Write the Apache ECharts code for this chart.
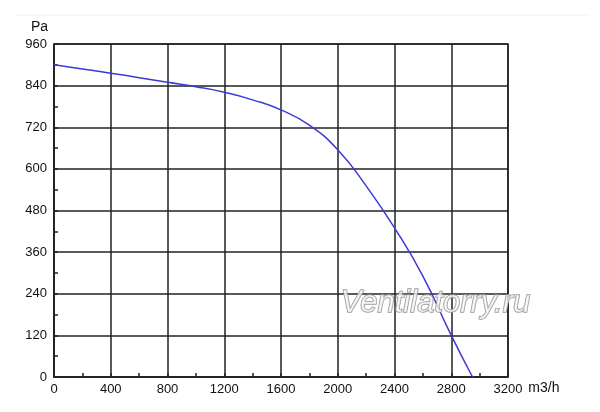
<!DOCTYPE html>
<html lang="en">
<head>
    <meta charset="UTF-8">
    <title>Fan curve</title>
    <script type="text/javascript" src="https://cdn.jsdelivr.net/npm/echarts@6/dist/echarts.min.js"></script>
    <style>
        html, body { margin: 0; padding: 0; background: #fff; }
        #main { width: 600px; height: 412px; }
    </style>
</head>
<body>
<div id="main"></div>
<script>
    // airflow, m3/h
    const flow = [0, 200, 400, 600, 800, 1000, 1200, 1400, 1600, 1800, 2000, 2200, 2400, 2600, 2800, 2950];
    // static pressure, Pa
    const pressure = [900, 888, 876, 863, 850, 837, 821, 799, 770, 726, 655, 551, 430, 291, 120, 0];
    const xTicks = [0, 400, 800, 1200, 1600, 2000, 2400, 2800, 3200];
    const yTicks = [0, 120, 240, 360, 480, 600, 720, 840, 960];

    const chart = echarts.init(document.getElementById('main'));
    const font = 'Liberation Sans, Arial, sans-serif';
    const lineStyle = { color: '#222', width: 1.5 };

    chart.setOption({
        animation: false,
        grid: { left: 54, right: 92, top: 44, bottom: 35, show: true, borderColor: '#222', borderWidth: 1.5 },
        graphic: [
            {   // faint line at the top of the picture
                type: 'line', shape: { x1: 15, y1: 15, x2: 590, y2: 15 },
                style: { stroke: '#f0f0f0', lineWidth: 1 }
            },
            {   // watermark
                type: 'text', left: 340, top: 287, z: 100,
                style: {
                    text: 'Ventilatorry.ru', font: 'italic 31px "Liberation Sans", Arial',
                    fill: 'rgba(255,255,255,0.7)', stroke: '#9a9a9a', lineWidth: 1.5
                }
            }
        ],
        xAxis: {
            type: 'value', min: xTicks[0], max: xTicks[xTicks.length - 1], interval: 400,
            name: 'm3/h', nameLocation: 'end', nameGap: 10,
            nameTextStyle: { fontFamily: font, fontSize: 14, color: '#111', verticalAlign: 'top', padding: [4, 0, 0, 0] },
            axisLine: { lineStyle: lineStyle },
            axisTick: { show: true, inside: true, length: 4, lineStyle: lineStyle },
            minorTick: { show: true, splitNumber: 2, length: 4, lineStyle: lineStyle },
            splitLine: { show: true, lineStyle: lineStyle },
            axisLabel: { fontFamily: font, fontSize: 13, color: '#111', margin: 6, formatter: v => String(v) }
        },
        yAxis: {
            type: 'value', min: yTicks[0], max: yTicks[yTicks.length - 1], interval: 120,
            name: 'Pa', nameLocation: 'end', nameGap: 10,
            nameTextStyle: { fontFamily: font, fontSize: 14, color: '#111', align: 'right', padding: [0, 6, 0, 0] },
            axisLine: { lineStyle: lineStyle },
            axisTick: { show: true, inside: true, length: 4, lineStyle: lineStyle },
            minorTick: { show: true, splitNumber: 2, length: 4, lineStyle: lineStyle },
            splitLine: { show: true, lineStyle: lineStyle },
            axisLabel: { fontFamily: font, fontSize: 13, color: '#111', margin: 7, formatter: v => String(v) }
        },
        series: [{
            type: 'line', smooth: 0.5, showSymbol: false,
            data: flow.map((f, i) => [f, pressure[i]]),
            lineStyle: { color: '#3a3ad8', width: 1.5 }
        }]
    });
</script>
</body>
</html>
